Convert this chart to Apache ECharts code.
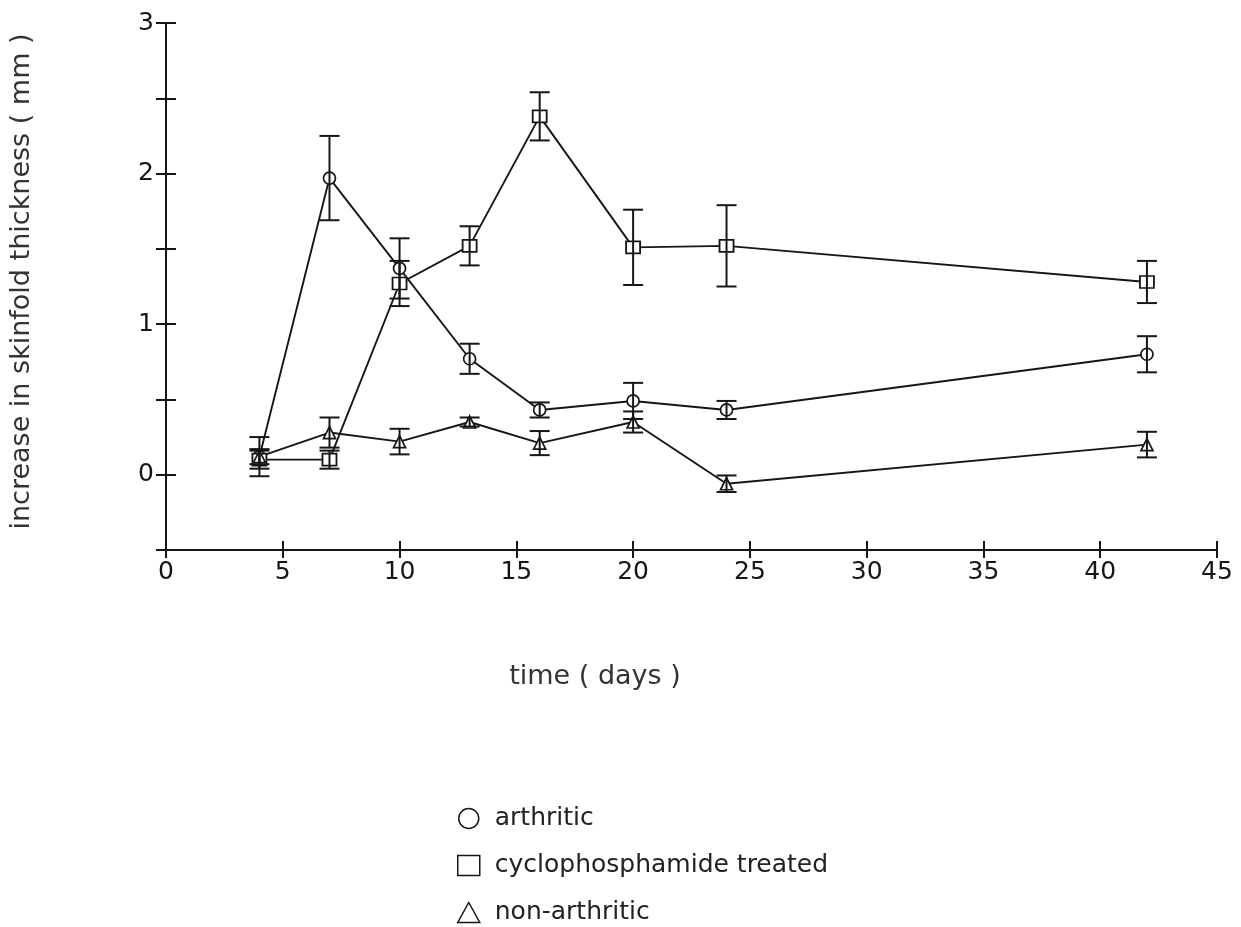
<!DOCTYPE html>
<html>
<head>
<meta charset="utf-8">
<title>Skinfold thickness over time</title>
<script src="https://cdn.jsdelivr.net/npm/echarts@6/dist/echarts.min.js"></script>
<style>
  html, body { margin: 0; padding: 0; background: #fff; }
  #chart { width: 1241px; height: 927px; }
</style>
</head>
<body>
<div id="chart"></div>
<script>
// Measurement days
const days = [4, 7, 10, 13, 16, 20, 24, 42];

// Mean increase in skinfold thickness (mm) and error (±) per group
const arthritic      = [0.12, 1.97, 1.37, 0.77, 0.43, 0.49, 0.43, 0.80];
const arthriticErr   = [0.13, 0.28, 0.20, 0.10, 0.05, 0.12, 0.06, 0.12];
const cyclo          = [0.10, 0.10, 1.27, 1.52, 2.38, 1.51, 1.52, 1.28];
const cycloErr       = [0.06, 0.06, 0.15, 0.13, 0.16, 0.25, 0.27, 0.14];
const nonArthritic   = [0.12, 0.28, 0.22, 0.35, 0.21, 0.35, -0.06, 0.20];
const nonArthErr     = [0.05, 0.10, 0.085, 0.03, 0.08, 0.07, 0.055, 0.085];

const seriesNames = ['arthritic', 'cyclophosphamide treated', 'non-arthritic'];
const xTicks = { min: 0, max: 45, step: 5 };
const yTicks = { min: -0.5, max: 3, step: 0.5 };

const INK = '#161616';
const FONT = 'DejaVu Sans';

const points = vals => days.map((d, i) => [d, vals[i]]);
const bars = (vals, errs) => days.map((d, i) => [d, vals[i] - errs[i], vals[i] + errs[i]]);

// Vertical error bar with flat caps, positioned through the axis scales
function renderErrorBar(params, api) {
  const x = api.value(0);
  const lo = api.coord([x, api.value(1)]);
  const hi = api.coord([x, api.value(2)]);
  const cap = 10;
  const style = { stroke: INK, lineWidth: 2 };
  return {
    type: 'group',
    children: [
      { type: 'line', shape: { x1: lo[0], y1: lo[1], x2: hi[0], y2: hi[1] }, style },
      { type: 'line', shape: { x1: lo[0] - cap, y1: lo[1], x2: lo[0] + cap, y2: lo[1] }, style },
      { type: 'line', shape: { x1: hi[0] - cap, y1: hi[1], x2: hi[0] + cap, y2: hi[1] }, style }
    ]
  };
}

function lineSeries(name, vals, symbol, size) {
  return {
    name, type: 'line', data: points(vals),
    xAxisIndex: 0, yAxisIndex: 0,
    symbol, symbolSize: size, showAllSymbol: true,
    lineStyle: { color: INK, width: 1.9 },
    itemStyle: { color: '#fff', borderColor: INK, borderWidth: 1.7 },
    z: 2, silent: true, animation: false
  };
}

function errorSeries(name, vals, errs) {
  return {
    name: name + ' error', type: 'custom', data: bars(vals, errs),
    xAxisIndex: 0, yAxisIndex: 0,
    encode: { x: 0, y: [1, 2] },
    renderItem: renderErrorBar, z: 3, silent: true, animation: false
  };
}

const baseX = {
  type: 'value', min: xTicks.min, max: xTicks.max, interval: xTicks.step,
  position: 'bottom', splitLine: { show: false }
};
const baseY = {
  type: 'value', min: yTicks.min, max: yTicks.max, interval: yTicks.step,
  position: 'left', splitLine: { show: false }
};

const option = {
  backgroundColor: '#fff',
  animation: false,
  grid: { left: 166, right: 24, top: 23, bottom: 377, containLabel: false },
  xAxis: [
    Object.assign({}, baseX, {
      axisLine: { onZero: false, lineStyle: { color: INK, width: 2 } },
      axisTick: { length: 8, lineStyle: { color: INK, width: 2 } },
      axisLabel: { color: INK, fontFamily: FONT, fontSize: 25, margin: 10 }
    }),
    Object.assign({}, baseX, {
      axisLine: { show: false, onZero: false },
      axisTick: { inside: true, length: 9, lineStyle: { color: INK, width: 2 } },
      axisLabel: { show: false }
    })
  ],
  yAxis: [
    Object.assign({}, baseY, {
      name: 'increase in skinfold thickness ( mm )',
      nameLocation: 'middle', nameGap: 131,
      nameTextStyle: { color: '#333', fontFamily: FONT, fontSize: 27, padding: [0, 0, 0, 10] },
      axisLine: { onZero: false, lineStyle: { color: INK, width: 2 } },
      axisTick: { length: 10, lineStyle: { color: INK, width: 2 } },
      axisLabel: {
        color: INK, fontFamily: FONT, fontSize: 25, margin: 12,
        formatter: v => (Number.isInteger(v) ? String(v) : '')
      }
    }),
    Object.assign({}, baseY, {
      axisLine: { show: false, onZero: false },
      axisTick: { inside: true, length: 10, lineStyle: { color: INK, width: 2 } },
      axisLabel: { show: false }
    })
  ],
  legend: {
    data: [
      { name: seriesNames[0], icon: 'circle' },
      { name: seriesNames[1], icon: 'rect' },
      { name: seriesNames[2], icon: 'triangle' }
    ],
    orient: 'vertical', left: 457, top: 806, padding: 0,
    itemWidth: 22, itemHeight: 20, itemGap: 22,
    itemStyle: { color: '#fff', borderColor: INK, borderWidth: 1.5 },
    textStyle: { color: '#222', fontFamily: FONT, fontSize: 25, padding: [0, 0, 0, 10] },
    selectedMode: false
  },
  graphic: [
    {
      type: 'text', x: 595, y: 677,
      style: {
        text: 'time ( days )', fill: '#333', font: '27px "DejaVu Sans"',
        align: 'center', verticalAlign: 'middle'
      }
    }
  ],
  series: [
    errorSeries(seriesNames[0], arthritic, arthriticErr),
    errorSeries(seriesNames[1], cyclo, cycloErr),
    errorSeries(seriesNames[2], nonArthritic, nonArthErr),
    lineSeries(seriesNames[0], arthritic, 'circle', 12),
    lineSeries(seriesNames[1], cyclo, 'rect', [14, 12]),
    lineSeries(seriesNames[2], nonArthritic, 'triangle', 12)
  ]
};

const chart = echarts.init(document.getElementById('chart'), null, { renderer: 'canvas' });
chart.setOption(option);
</script>
</body>
</html>
